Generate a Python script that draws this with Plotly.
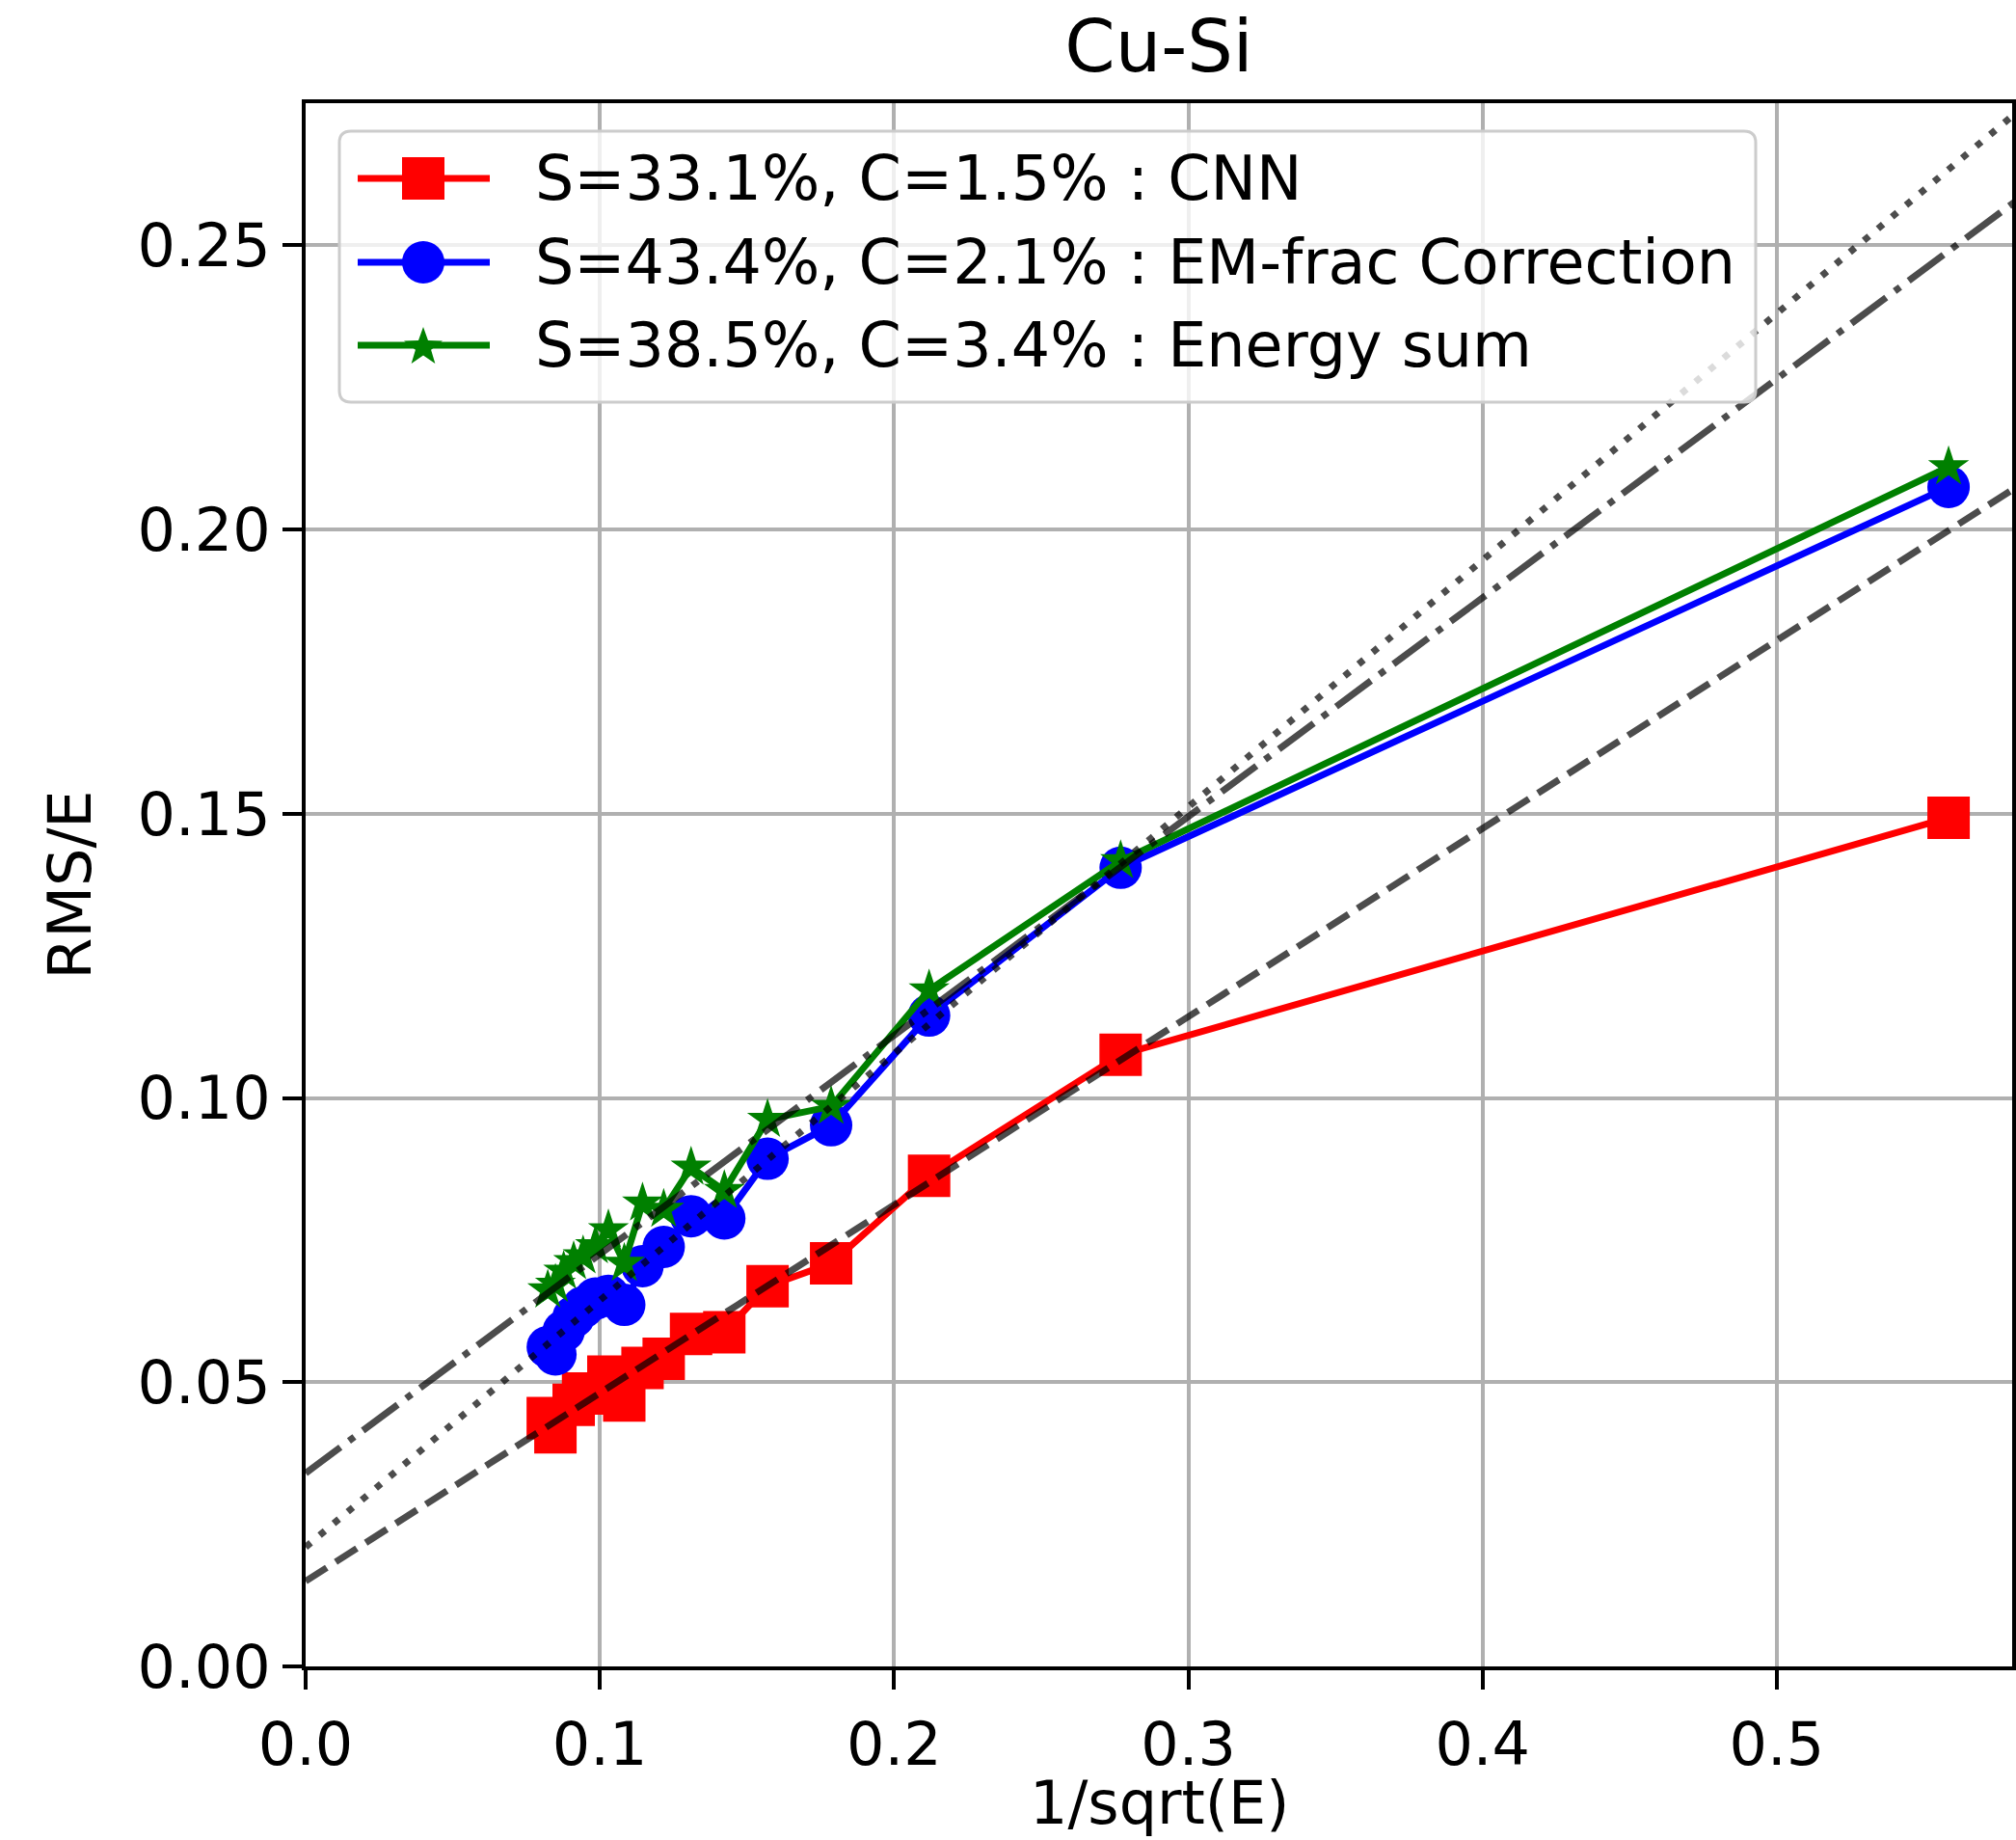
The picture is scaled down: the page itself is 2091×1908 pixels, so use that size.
import math
import plotly.graph_objects as go

# 1/sqrt(E) vs RMS/E
x_cnn = [0.0823, 0.0849, 0.0911, 0.0943, 0.1029, 0.1083, 0.1145, 0.1217, 0.1310,
         0.1423, 0.1570, 0.1786, 0.2119, 0.2770, 0.5584]
y_cnn = [0.0437, 0.0412, 0.0460, 0.0480, 0.0510, 0.0468, 0.0525, 0.0541, 0.0585,
         0.0588, 0.0669, 0.0709, 0.0863, 0.1076, 0.1493]

x_em = [0.0823, 0.0849, 0.0877, 0.0911, 0.0943, 0.0985, 0.1029, 0.1083, 0.1145,
        0.1217, 0.1310, 0.1423, 0.1570, 0.1786, 0.2119, 0.2770, 0.5584]
y_em = [0.0562, 0.0549, 0.0590, 0.0615, 0.0632, 0.0647, 0.0652, 0.0636, 0.0704,
        0.0738, 0.0792, 0.0788, 0.0893, 0.0952, 0.1145, 0.1405, 0.2075]

x_sum = [0.0823, 0.0849, 0.0877, 0.0911, 0.0943, 0.0985, 0.1029, 0.1083, 0.1145,
         0.1217, 0.1310, 0.1423, 0.1570, 0.1786, 0.2119, 0.2770, 0.5584]
y_sum = [0.0662, 0.0672, 0.0695, 0.0712, 0.0722, 0.0740, 0.0768, 0.0709, 0.0815,
         0.0804, 0.0878, 0.0837, 0.0962, 0.0985, 0.1190, 0.1417, 0.2110]

# fit results: RMS/E = C + S / sqrt(E)
names = ["CNN", "EM-frac Correction", "Energy sum"]
S = [0.331, 0.434, 0.385]
C = [0.015, 0.021, 0.034]
colors = ["red", "blue", "green"]
fit_dash = ["26px,11px", "7px,12px", "45px,11px,7px,11px"]
fit_x = [0.0, 0.6]

FONT = "DejaVu Sans"
FS = 62
W, H = 2091, 1908
L, R, T, B = 317, 4, 107, 180
PW, PH = W - L - R, H - T - B


def px(x):
    return (x - L) / PW


def py(y):
    return (H - B - y) / PH


labels = [f"S={s*100:.1f}%, C={c*100:.1f}% : {n}" for s, c, n in zip(S, C, names)]

fig = go.Figure()

fig.add_trace(go.Scatter(x=x_cnn, y=y_cnn, mode="lines+markers", name=labels[0],
                         line=dict(color="red", width=7),
                         marker=dict(symbol="square", size=44, color="red")))
fig.add_trace(go.Scatter(x=x_em, y=y_em, mode="lines+markers", name=labels[1],
                         line=dict(color="blue", width=7),
                         marker=dict(symbol="circle", size=44, color="blue")))
fig.add_trace(go.Scatter(x=x_sum, y=y_sum, mode="lines+markers", name=labels[2],
                         line=dict(color="green", width=7),
                         marker=dict(symbol="star", size=32, color="green")))

# fitted lines drawn on top, semi transparent
for s, c, d in zip(S, C, fit_dash):
    fig.add_trace(go.Scatter(x=fit_x, y=[c + s * xx for xx in fit_x], mode="lines",
                             line=dict(color="rgba(0,0,0,0.7)", width=7, dash=d),
                             showlegend=False, hoverinfo="skip"))

axis_common = dict(showline=True, linecolor="black", linewidth=4, mirror=True,
                   ticks="outside", ticklen=20, tickwidth=4, tickcolor="black",
                   showgrid=True, gridcolor="#b0b0b0", gridwidth=3.5, zeroline=False,
                   automargin=False,
                   tickfont=dict(family=FONT, size=FS, color="black"))

fig.update_xaxes(range=[0, 0.58], tickvals=[0, 0.1, 0.2, 0.3, 0.4, 0.5], tickformat=".1f",
                 ticklabelstandoff=4, **axis_common)
fig.update_yaxes(range=[0, 0.275], tickvals=[0, 0.05, 0.1, 0.15, 0.2, 0.25], tickformat=".2f",
                 ticklabelstandoff=0, **axis_common)

# legend drawn by hand so the symbols keep their full size
bx0, bx1, by0, by1, rad = 352, 1821, 136, 417, 12
box = (f"M {px(bx0 + rad)} {py(by0)} L {px(bx1 - rad)} {py(by0)} "
       f"Q {px(bx1)} {py(by0)} {px(bx1)} {py(by0 + rad)} L {px(bx1)} {py(by1 - rad)} "
       f"Q {px(bx1)} {py(by1)} {px(bx1 - rad)} {py(by1)} L {px(bx0 + rad)} {py(by1)} "
       f"Q {px(bx0)} {py(by1)} {px(bx0)} {py(by1 - rad)} L {px(bx0)} {py(by0 + rad)} "
       f"Q {px(bx0)} {py(by0)} {px(bx0 + rad)} {py(by0)} Z")
shapes = [dict(type="path", xref="paper", yref="paper", path=box,
               fillcolor="rgba(255,255,255,0.8)", line=dict(color="#cccccc", width=3))]
annotations = []
rows = [185, 272, 358]
lx0, lx1, cx = 371, 508, 439
for i, (yy, col) in enumerate(zip(rows, colors)):
    shapes.append(dict(type="line", xref="paper", yref="paper", x0=px(lx0), x1=px(lx1),
                       y0=py(yy), y1=py(yy), line=dict(color=col, width=7)))
    if i == 0:
        shapes.append(dict(type="rect", xref="paper", yref="paper", x0=px(cx - 22), x1=px(cx + 22),
                           y0=py(yy + 22), y1=py(yy - 22), fillcolor=col, line=dict(width=0)))
    elif i == 1:
        shapes.append(dict(type="circle", xref="paper", yref="paper", x0=px(cx - 22), x1=px(cx + 22),
                           y0=py(yy + 22), y1=py(yy - 22), fillcolor=col, line=dict(width=0)))
    else:
        pts = []
        for k in range(10):
            r = 21 if k % 2 == 0 else 8.5
            a = math.pi / 2 + k * math.pi / 5
            pts.append((cx + r * math.cos(a), yy + 2 - r * math.sin(a)))
        path = "M " + " L ".join(f"{px(a)} {py(b)}" for a, b in pts) + " Z"
        shapes.append(dict(type="path", xref="paper", yref="paper", path=path,
                           fillcolor=col, line=dict(width=0)))
    annotations.append(dict(text=labels[i], xref="paper", yref="paper", x=px(553), y=py(yy),
                            xanchor="left", yanchor="middle", showarrow=False,
                            font=dict(family=FONT, size=63.5, color="black")))

# axis titles placed as annotations
annotations.append(dict(text="1/sqrt(E)", xref="paper", yref="paper", x=0.5, y=py(1869),
                        xanchor="center", yanchor="middle", showarrow=False,
                        font=dict(family=FONT, size=FS, color="black")))
annotations.append(dict(text="RMS/E", xref="paper", yref="paper", x=px(72), y=0.5,
                        xanchor="center", yanchor="middle", textangle=-90, showarrow=False,
                        font=dict(family=FONT, size=FS, color="black")))

fig.update_layout(
    width=W, height=H,
    margin=dict(l=L, r=R, t=T, b=B),
    plot_bgcolor="white", paper_bgcolor="white",
    font=dict(family=FONT, color="black"),
    title=dict(text="Cu-Si", x=(L + PW / 2) / W, xanchor="center", y=0.975, yanchor="middle",
               font=dict(family=FONT, size=75, color="black")),
    showlegend=False,
    shapes=shapes,
    annotations=annotations,
)

fig.write_html("out.html", config={"displayModeBar": False},
               post_script="document.body.style.margin='0px';")
